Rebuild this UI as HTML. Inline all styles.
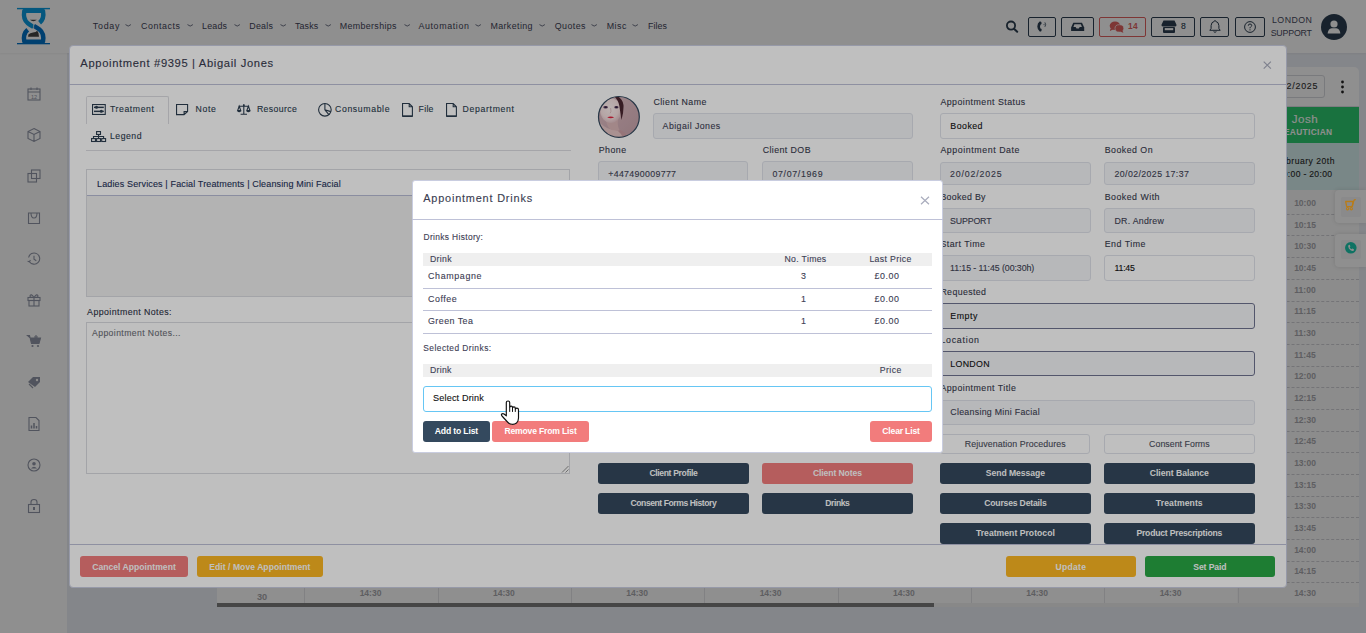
<!DOCTYPE html>
<html><head><meta charset="utf-8"><title>Appointment</title><style>*{margin:0;padding:0}
html,body{width:1366px;height:633px;overflow:hidden}
body{position:relative;background:#edeff6;font-family:"Liberation Sans",sans-serif}
.t{position:absolute;white-space:nowrap;line-height:1;-webkit-text-stroke:0.12px currentColor}
.b{position:absolute;box-sizing:border-box}
svg{overflow:visible}
</style></head><body>
<div style="position:absolute;left:0px;top:0px;width:67.00px;height:633.00px;background:#fff;"></div>
<div style="position:absolute;left:0px;top:0px;width:1366.00px;height:52.80px;background:#fff;box-shadow:0 1px 2px rgba(0,0,0,0.05);"></div>
<svg style="position:absolute;left:17px;top:7px;" width="34" height="39" viewBox="0 0 34 39">
<rect x="0" y="0.9" width="33" height="1.4" fill="#0a9be2"/>
<rect x="0" y="36" width="33" height="1.3" fill="#0073c8"/>
<path d="M22.6 15.8 C26.2 12.8 26.9 8.5 26 3.9 L7.3 3.9 C6.4 9 7.2 13.4 10.8 16.2 C12.6 17.6 14.5 18.7 16.4 19.8" stroke="#0a9be2" stroke-width="4.4" fill="none" stroke-linejoin="round"/>
<path d="M10.7 22.8 C7.1 25.8 6.4 30.1 7.3 34.7 L26 34.7 C26.9 29.6 26.1 25.2 22.5 22.4 C20.7 21 18.8 19.9 16.9 18.8" stroke="#0073c8" stroke-width="4.4" fill="none" stroke-linejoin="round"/>
<path d="M16.55 17.2 L16.65 21.4" stroke="#fff" stroke-width="0.7"/>
<path d="M12.9 12.7 Q16.4 15.6 19.9 12.7 Z" fill="#444"/>
<path d="M11.1 29.8 L11.4 27.6 Q13 25.9 16 25.6 Q19 25.2 20.2 23.7 Q22.1 25.6 22 29.8 Z" fill="#444"/>
</svg>
<div class="t" style="left:92.7px;top:22.00px;font-size:8.9px;color:#3f4459;font-weight:400;letter-spacing:0.787px;-webkit-text-stroke:0;">Today</div>
<svg style="position:absolute;left:125.1px;top:24px;" width="6.5" height="4" viewBox="0 0 6.5 4"><path d="M0.5 0.6 Q3.2 3.6 5.9 0.6" stroke="#555a70" stroke-width="0.85" fill="none"/></svg>
<div class="t" style="left:141.0px;top:22.00px;font-size:8.9px;color:#3f4459;font-weight:400;letter-spacing:0.572px;-webkit-text-stroke:0;">Contacts</div>
<svg style="position:absolute;left:187px;top:24px;" width="6.5" height="4" viewBox="0 0 6.5 4"><path d="M0.5 0.6 Q3.2 3.6 5.9 0.6" stroke="#555a70" stroke-width="0.85" fill="none"/></svg>
<div class="t" style="left:202.0px;top:22.00px;font-size:8.9px;color:#3f4459;font-weight:400;letter-spacing:0.212px;-webkit-text-stroke:0;">Leads</div>
<svg style="position:absolute;left:233.7px;top:24px;" width="6.5" height="4" viewBox="0 0 6.5 4"><path d="M0.5 0.6 Q3.2 3.6 5.9 0.6" stroke="#555a70" stroke-width="0.85" fill="none"/></svg>
<div class="t" style="left:249.3px;top:22.00px;font-size:8.9px;color:#3f4459;font-weight:400;letter-spacing:0.233px;-webkit-text-stroke:0;">Deals</div>
<svg style="position:absolute;left:280px;top:24px;" width="6.5" height="4" viewBox="0 0 6.5 4"><path d="M0.5 0.6 Q3.2 3.6 5.9 0.6" stroke="#555a70" stroke-width="0.85" fill="none"/></svg>
<div class="t" style="left:295.0px;top:22.00px;font-size:8.9px;color:#3f4459;font-weight:400;letter-spacing:0.112px;-webkit-text-stroke:0;">Tasks</div>
<svg style="position:absolute;left:325px;top:24px;" width="6.5" height="4" viewBox="0 0 6.5 4"><path d="M0.5 0.6 Q3.2 3.6 5.9 0.6" stroke="#555a70" stroke-width="0.85" fill="none"/></svg>
<div class="t" style="left:339.7px;top:22.00px;font-size:8.9px;color:#3f4459;font-weight:400;letter-spacing:0.355px;-webkit-text-stroke:0;">Memberships</div>
<svg style="position:absolute;left:403.5px;top:24px;" width="6.5" height="4" viewBox="0 0 6.5 4"><path d="M0.5 0.6 Q3.2 3.6 5.9 0.6" stroke="#555a70" stroke-width="0.85" fill="none"/></svg>
<div class="t" style="left:418.4px;top:22.00px;font-size:8.9px;color:#3f4459;font-weight:400;letter-spacing:0.625px;-webkit-text-stroke:0;">Automation</div>
<svg style="position:absolute;left:475px;top:24px;" width="6.5" height="4" viewBox="0 0 6.5 4"><path d="M0.5 0.6 Q3.2 3.6 5.9 0.6" stroke="#555a70" stroke-width="0.85" fill="none"/></svg>
<div class="t" style="left:490.4px;top:22.00px;font-size:8.9px;color:#3f4459;font-weight:400;letter-spacing:0.396px;-webkit-text-stroke:0;">Marketing</div>
<svg style="position:absolute;left:538.8px;top:24px;" width="6.5" height="4" viewBox="0 0 6.5 4"><path d="M0.5 0.6 Q3.2 3.6 5.9 0.6" stroke="#555a70" stroke-width="0.85" fill="none"/></svg>
<div class="t" style="left:554.7px;top:22.00px;font-size:8.9px;color:#3f4459;font-weight:400;letter-spacing:0.442px;-webkit-text-stroke:0;">Quotes</div>
<svg style="position:absolute;left:591px;top:24px;" width="6.5" height="4" viewBox="0 0 6.5 4"><path d="M0.5 0.6 Q3.2 3.6 5.9 0.6" stroke="#555a70" stroke-width="0.85" fill="none"/></svg>
<div class="t" style="left:606.7px;top:22.00px;font-size:8.9px;color:#3f4459;font-weight:400;letter-spacing:0.528px;-webkit-text-stroke:0;">Misc</div>
<svg style="position:absolute;left:632px;top:24px;" width="6.5" height="4" viewBox="0 0 6.5 4"><path d="M0.5 0.6 Q3.2 3.6 5.9 0.6" stroke="#555a70" stroke-width="0.85" fill="none"/></svg>
<div class="t" style="left:648.0px;top:22.00px;font-size:8.9px;color:#3f4459;font-weight:400;letter-spacing:0.046px;-webkit-text-stroke:0;">Files</div>
<svg style="position:absolute;left:1005px;top:19.5px;" width="14" height="14" viewBox="0 0 14 14"><circle cx="6" cy="5.6" r="4.1" stroke="#2c3e50" stroke-width="1.8" fill="none"/><path d="M9 8.7 L12.2 11.8" stroke="#2c3e50" stroke-width="2" stroke-linecap="round"/></svg>
<div style="position:absolute;left:1028px;top:17.2px;width:27.60px;height:19.40px;border:1px solid #2c3e50;border-radius:2px;box-sizing:border-box;"></div>
<div style="position:absolute;left:1061px;top:17.2px;width:32.60px;height:19.40px;border:1px solid #2c3e50;border-radius:2px;box-sizing:border-box;"></div>
<div style="position:absolute;left:1099.2px;top:17.2px;width:46.50px;height:19.40px;border:1px solid #e0605f;border-radius:2px;box-sizing:border-box;"></div>
<div style="position:absolute;left:1151px;top:17.2px;width:43.80px;height:19.40px;border:1px solid #2c3e50;border-radius:2px;box-sizing:border-box;"></div>
<div style="position:absolute;left:1200px;top:17.2px;width:29.40px;height:19.40px;border:1px solid #2c3e50;border-radius:2px;box-sizing:border-box;"></div>
<div style="position:absolute;left:1235.4px;top:17.2px;width:29.30px;height:19.40px;border:1px solid #2c3e50;border-radius:2px;box-sizing:border-box;"></div>
<svg style="position:absolute;left:1036px;top:20px;" width="12" height="13" viewBox="0 0 12 13"><path d="M3.6 1.6 Q4.8 1.2 5.3 2 L5.6 3.6 Q5.5 4.4 4.4 4.7 Q3.6 6.6 4.4 8.5 Q5.5 8.7 5.7 9.5 L5.4 11 Q4.9 11.9 3.7 11.4 Q1.4 10 1.3 6.5 Q1.4 3 3.6 1.6Z" fill="#2c3e50"/><path d="M7.5 4.6 L8.6 4.6" stroke="#2c3e50" stroke-width="0.7"/><path d="M8.9 2.4 Q10.4 4.6 8.9 6.8" stroke="#2c3e50" stroke-width="0.8" fill="none"/></svg>
<svg style="position:absolute;left:1071px;top:21.8px;" width="14" height="10" viewBox="0 0 14 10"><path d="M2.3 0.8 L11 0.8 L13.2 5.4 L13.2 9 L0.1 9 L0.1 5.4 Z" fill="#2c3e50"/><path d="M2.4 5 L4.6 5 L5.5 6.4 L7.8 6.4 L8.7 5 L10.9 5 L9.9 2.3 L3.4 2.3 Z" fill="#fff"/></svg>
<svg style="position:absolute;left:1108.5px;top:20.8px;" width="16" height="12" viewBox="0 0 16 12"><ellipse cx="6" cy="4.8" rx="5.3" ry="4.3" fill="#e0605f"/><path d="M1.8 7.2 L0.6 10 L4.2 8.4Z" fill="#e0605f"/><ellipse cx="10.4" cy="7.4" rx="4.4" ry="3.7" fill="#e0605f" stroke="#fff" stroke-width="0.7"/><path d="M13.2 9.6 L14.6 11.8 L11.3 10.8Z" fill="#e0605f"/></svg>
<div class="t" style="left:1128.0px;top:22.00px;font-size:8.3px;color:#e0605f;font-weight:700;letter-spacing:0.364px;-webkit-text-stroke:0;">14</div>
<svg style="position:absolute;left:1160.5px;top:19.6px;" width="16" height="14" viewBox="0 0 16 14"><path d="M2.5 0.6 L13.5 0.6 L15.6 5 Q15.4 6.6 13.8 6.6 L2.2 6.6 Q0.6 6.6 0.4 5 Z" fill="#2c3e50"/><rect x="2" y="7.1" width="12" height="5.8" rx="1" fill="#2c3e50"/><rect x="3.8" y="8.1" width="8.4" height="2.1" fill="#fff"/></svg>
<div class="t" style="left:1181.0px;top:22.00px;font-size:8.6px;color:#2c3e50;font-weight:400;">8</div>
<svg style="position:absolute;left:1209px;top:19.2px;" width="12" height="15" viewBox="0 0 12 15"><path d="M6 1.5 Q6.6 1.5 6.6 2.3 Q9.8 3 9.9 6.6 L9.9 9.5 L11.2 11.3 L0.8 11.3 L2.1 9.5 L2.1 6.6 Q2.2 3 5.4 2.3 Q5.4 1.5 6 1.5Z" stroke="#2c3e50" stroke-width="1" fill="none"/><path d="M4.6 12.6 Q6 14 7.4 12.6" stroke="#2c3e50" stroke-width="1" fill="none"/></svg>
<svg style="position:absolute;left:1243px;top:20px;" width="14" height="14" viewBox="0 0 14 14"><circle cx="7" cy="7" r="5.4" stroke="#2c3e50" stroke-width="1" fill="none"/><path d="M5.3 5.7 Q5.3 4 7 4 Q8.7 4 8.7 5.5 Q8.7 6.4 7.6 7 Q7 7.3 7 8.3" stroke="#2c3e50" stroke-width="1" fill="none"/><circle cx="7" cy="9.8" r="0.65" fill="#2c3e50"/></svg>
<div class="t" style="left:1272.0px;top:16.00px;font-size:8.8px;color:#474b5e;font-weight:400;letter-spacing:0.457px;-webkit-text-stroke:0;">LONDON</div>
<div class="t" style="left:1270.7px;top:29.00px;font-size:8.8px;color:#474b5e;font-weight:400;letter-spacing:-0.191px;-webkit-text-stroke:0;">SUPPORT</div>
<svg style="position:absolute;left:1321px;top:14px;" width="26" height="26" viewBox="0 0 26 26"><circle cx="13" cy="13" r="13" fill="#2c3e50"/><circle cx="13" cy="10" r="3.6" fill="#fff"/><path d="M6.6 19.6 Q7.2 14.6 10.6 14.2 L15.4 14.2 Q18.8 14.6 19.4 19.6 Z" fill="#fff"/></svg>
<svg style="position:absolute;left:26px;top:86px;" width="16" height="16" viewBox="0 0 16 16"><rect x="2" y="3" width="12" height="11" stroke="#9297a8" stroke-width="1.1" fill="none"/><path d="M2 6 L14 6 M5 1.5 L5 4 M11 1.5 L11 4" stroke="#9297a8" stroke-width="1.1" fill="none"/><text x="8" y="12.6" font-size="5.5" text-anchor="middle" fill="#9297a8" font-family="Liberation Sans">12</text></svg>
<svg style="position:absolute;left:26px;top:127px;" width="16" height="16" viewBox="0 0 16 16"><path d="M8 1.5 L14 4.5 L14 11.5 L8 14.5 L2 11.5 L2 4.5 Z M2 4.5 L8 7.5 L14 4.5 M8 7.5 L8 14.5" stroke="#9297a8" stroke-width="1.1" fill="none"/></svg>
<svg style="position:absolute;left:26px;top:168px;" width="16" height="16" viewBox="0 0 16 16"><rect x="2" y="5.5" width="8.5" height="8.5" stroke="#9297a8" stroke-width="1.1" fill="none"/><rect x="5.5" y="2" width="8.5" height="8.5" stroke="#9297a8" stroke-width="1.1" fill="none"/></svg>
<svg style="position:absolute;left:26px;top:210px;" width="16" height="16" viewBox="0 0 16 16"><path d="M2.5 3 L13.5 3 L13.5 13.5 L2.5 13.5 Z M5 3 Q5 8 8 8 Q11 8 11 3" stroke="#9297a8" stroke-width="1.1" fill="none"/></svg>
<svg style="position:absolute;left:26px;top:251px;" width="16" height="16" viewBox="0 0 16 16"><path d="M3.3 10.5 A5.6 5.6 0 1 0 2.6 6.5" stroke="#9297a8" stroke-width="1.1" fill="none"/><path d="M1.6 10.2 L3.4 10.8 L4.4 9" stroke="#9297a8" stroke-width="1.1" fill="none"/><path d="M8 4.8 L8 8.3 L10.3 9.8" stroke="#9297a8" stroke-width="1.1" fill="none"/></svg>
<svg style="position:absolute;left:26px;top:292px;" width="16" height="16" viewBox="0 0 16 16"><rect x="2" y="5.5" width="12" height="3" stroke="#9297a8" stroke-width="1.1" fill="none"/><rect x="3" y="8.5" width="10" height="5.5" stroke="#9297a8" stroke-width="1.1" fill="none"/><path d="M8 5.5 L8 14 M8 5.5 Q5 1 4 4 Q4 5.5 8 5.5 Q12 5.5 12 4 Q11 1 8 5.5" stroke="#9297a8" stroke-width="1.1" fill="none"/></svg>
<svg style="position:absolute;left:26px;top:333px;" width="16" height="16" viewBox="0 0 16 16"><path d="M1.5 2.5 L3.5 2.5 L5.5 10.5 L13 10.5 L14.5 5 L4.3 5 Z" fill="#9297a8" stroke="#9297a8" stroke-width="1.1"/><circle cx="6.5" cy="13" r="1.1" fill="#9297a8"/><circle cx="12" cy="13" r="1.1" fill="#9297a8"/><path d="M10 2 L10 6 M8 4 L12 4" stroke="#9297a8" stroke-width="1.1" fill="none"/></svg>
<svg style="position:absolute;left:26px;top:374px;" width="16" height="16" viewBox="0 0 16 16"><path d="M2 8 L7 3 L14 3 L14 8 L9 13 Z" fill="#9297a8"/><circle cx="11" cy="6" r="1.2" fill="#fff"/><path d="M3 10 L7 14" stroke="#9297a8" stroke-width="1.1" fill="none"/></svg>
<svg style="position:absolute;left:26px;top:416px;" width="16" height="16" viewBox="0 0 16 16"><path d="M3 1.5 L10 1.5 L13 4.5 L13 14.5 L3 14.5 Z" stroke="#9297a8" stroke-width="1.1" fill="none"/><path d="M5.5 12.5 L5.5 9.5 M8 12.5 L8 7 M10.5 12.5 L10.5 10" stroke="#9297a8" stroke-width="1.5"/></svg>
<svg style="position:absolute;left:26px;top:457px;" width="16" height="16" viewBox="0 0 16 16"><circle cx="8" cy="8" r="6" stroke="#9297a8" stroke-width="1.1" fill="none"/><circle cx="8" cy="6.8" r="1.8" fill="#9297a8"/><path d="M5 11.5 Q8 8 11 11.5" fill="#9297a8"/></svg>
<svg style="position:absolute;left:26px;top:498px;" width="16" height="16" viewBox="0 0 16 16"><rect x="2.5" y="6.5" width="11" height="8" stroke="#9297a8" stroke-width="1.1" fill="none"/><path d="M5 6.5 L5 4 Q5 1.5 8 1.5 Q11 1.5 11 4 L11 6.5" stroke="#9297a8" stroke-width="1.1" fill="none"/><rect x="7" y="9" width="2" height="3" fill="#9297a8"/></svg>
<div style="position:absolute;left:217px;top:67px;width:1142.00px;height:540.00px;background:#fff;border-radius:5px;"></div>
<div style="position:absolute;left:1225px;top:74.6px;width:99.60px;height:23.00px;border:1px solid #d9dadf;border-radius:3px;box-sizing:border-box;"></div>
<div class="t" style="left:1266.0px;top:82.00px;font-size:8.9px;color:#333;font-weight:400;letter-spacing:0.790px;">20/02/2025</div>
<svg style="position:absolute;left:1340px;top:80px;" width="5" height="14" viewBox="0 0 5 14"><circle cx="2.5" cy="2" r="1.4" fill="#222"/><circle cx="2.5" cy="7" r="1.4" fill="#222"/><circle cx="2.5" cy="12" r="1.4" fill="#222"/></svg>
<div style="position:absolute;left:217px;top:105.5px;width:1142.00px;height:1.00px;background:#dedfe4;"></div>
<div style="position:absolute;left:1237px;top:106.5px;width:122.00px;height:36.30px;background:#2ecc71;"></div>
<div class="t" style="left:1155.0px;width:300px;text-align:center;top:113.00px;font-size:11.6px;color:#fff;font-weight:400;letter-spacing:0.565px;">Josh</div>
<div class="t" style="left:1155.0px;width:300px;text-align:center;top:128.00px;font-size:8.4px;color:#fff;font-weight:700;letter-spacing:0.316px;-webkit-text-stroke:0;">BEAUTICIAN</div>
<div style="position:absolute;left:1237px;top:142.8px;width:122.00px;height:47.60px;background:#d9f1f1;"></div>
<div class="t" style="left:1155.0px;width:300px;text-align:center;top:157.00px;font-size:8.6px;color:#2a2a2a;font-weight:400;letter-spacing:0.483px;">February 20th</div>
<div class="t" style="left:1155.0px;width:300px;text-align:center;top:170.00px;font-size:8.6px;color:#2a2a2a;font-weight:400;letter-spacing:0.305px;">10:00 - 20:00</div>
<div style="position:absolute;left:1237px;top:190.4px;width:122.00px;height:412.60px;background:#fafafa;"></div>
<div class="t" style="left:1155.0px;width:300px;text-align:center;top:199.00px;font-size:8.5px;color:#a9a9ae;font-weight:700;-webkit-text-stroke:0;">10:00</div>
<div style="position:absolute;left:1237px;top:213.8px;width:122.00px;height:1.00px;border-top:1px dashed #cfcfd4;box-sizing:border-box;"></div>
<div class="t" style="left:1155.0px;width:300px;text-align:center;top:221.00px;font-size:8.5px;color:#a9a9ae;font-weight:700;-webkit-text-stroke:0;">10:15</div>
<div style="position:absolute;left:1237px;top:235.48000000000002px;width:122.00px;height:1.00px;border-top:1px dashed #cfcfd4;box-sizing:border-box;"></div>
<div class="t" style="left:1155.0px;width:300px;text-align:center;top:242.00px;font-size:8.5px;color:#a9a9ae;font-weight:700;-webkit-text-stroke:0;">10:30</div>
<div style="position:absolute;left:1237px;top:257.15999999999997px;width:122.00px;height:1.00px;border-top:1px dashed #cfcfd4;box-sizing:border-box;"></div>
<div class="t" style="left:1155.0px;width:300px;text-align:center;top:264.00px;font-size:8.5px;color:#a9a9ae;font-weight:700;-webkit-text-stroke:0;">10:45</div>
<div style="position:absolute;left:1237px;top:278.84px;width:122.00px;height:1.00px;border-top:1px dashed #cfcfd4;box-sizing:border-box;"></div>
<div class="t" style="left:1155.0px;width:300px;text-align:center;top:286.00px;font-size:8.5px;color:#a9a9ae;font-weight:700;-webkit-text-stroke:0;">11:00</div>
<div style="position:absolute;left:1237px;top:300.52px;width:122.00px;height:1.00px;border-top:1px dashed #cfcfd4;box-sizing:border-box;"></div>
<div class="t" style="left:1155.0px;width:300px;text-align:center;top:307.00px;font-size:8.5px;color:#a9a9ae;font-weight:700;-webkit-text-stroke:0;">11:15</div>
<div style="position:absolute;left:1237px;top:322.2px;width:122.00px;height:1.00px;border-top:1px dashed #cfcfd4;box-sizing:border-box;"></div>
<div class="t" style="left:1155.0px;width:300px;text-align:center;top:329.00px;font-size:8.5px;color:#a9a9ae;font-weight:700;-webkit-text-stroke:0;">11:30</div>
<div style="position:absolute;left:1237px;top:343.88px;width:122.00px;height:1.00px;border-top:1px dashed #cfcfd4;box-sizing:border-box;"></div>
<div class="t" style="left:1155.0px;width:300px;text-align:center;top:351.00px;font-size:8.5px;color:#a9a9ae;font-weight:700;-webkit-text-stroke:0;">11:45</div>
<div style="position:absolute;left:1237px;top:365.55999999999995px;width:122.00px;height:1.00px;border-top:1px dashed #cfcfd4;box-sizing:border-box;"></div>
<div class="t" style="left:1155.0px;width:300px;text-align:center;top:372.00px;font-size:8.5px;color:#a9a9ae;font-weight:700;-webkit-text-stroke:0;">12:00</div>
<div style="position:absolute;left:1237px;top:387.24px;width:122.00px;height:1.00px;border-top:1px dashed #cfcfd4;box-sizing:border-box;"></div>
<div class="t" style="left:1155.0px;width:300px;text-align:center;top:394.00px;font-size:8.5px;color:#a9a9ae;font-weight:700;-webkit-text-stroke:0;">12:15</div>
<div style="position:absolute;left:1237px;top:408.91999999999996px;width:122.00px;height:1.00px;border-top:1px dashed #cfcfd4;box-sizing:border-box;"></div>
<div class="t" style="left:1155.0px;width:300px;text-align:center;top:416.00px;font-size:8.5px;color:#a9a9ae;font-weight:700;-webkit-text-stroke:0;">12:30</div>
<div style="position:absolute;left:1237px;top:430.6px;width:122.00px;height:1.00px;border-top:1px dashed #cfcfd4;box-sizing:border-box;"></div>
<div class="t" style="left:1155.0px;width:300px;text-align:center;top:437.00px;font-size:8.5px;color:#a9a9ae;font-weight:700;-webkit-text-stroke:0;">12:45</div>
<div style="position:absolute;left:1237px;top:452.28px;width:122.00px;height:1.00px;border-top:1px dashed #cfcfd4;box-sizing:border-box;"></div>
<div class="t" style="left:1155.0px;width:300px;text-align:center;top:459.00px;font-size:8.5px;color:#a9a9ae;font-weight:700;-webkit-text-stroke:0;">13:00</div>
<div style="position:absolute;left:1237px;top:473.9599999999999px;width:122.00px;height:1.00px;border-top:1px dashed #cfcfd4;box-sizing:border-box;"></div>
<div class="t" style="left:1155.0px;width:300px;text-align:center;top:481.00px;font-size:8.5px;color:#a9a9ae;font-weight:700;-webkit-text-stroke:0;">13:15</div>
<div style="position:absolute;left:1237px;top:495.64px;width:122.00px;height:1.00px;border-top:1px dashed #cfcfd4;box-sizing:border-box;"></div>
<div class="t" style="left:1155.0px;width:300px;text-align:center;top:502.00px;font-size:8.5px;color:#a9a9ae;font-weight:700;-webkit-text-stroke:0;">13:30</div>
<div style="position:absolute;left:1237px;top:517.3199999999999px;width:122.00px;height:1.00px;border-top:1px dashed #cfcfd4;box-sizing:border-box;"></div>
<div class="t" style="left:1155.0px;width:300px;text-align:center;top:524.00px;font-size:8.5px;color:#a9a9ae;font-weight:700;-webkit-text-stroke:0;">13:45</div>
<div style="position:absolute;left:1237px;top:539.0px;width:122.00px;height:1.00px;border-top:1px dashed #cfcfd4;box-sizing:border-box;"></div>
<div class="t" style="left:1155.0px;width:300px;text-align:center;top:546.00px;font-size:8.5px;color:#a9a9ae;font-weight:700;-webkit-text-stroke:0;">14:00</div>
<div style="position:absolute;left:1237px;top:560.68px;width:122.00px;height:1.00px;border-top:1px dashed #cfcfd4;box-sizing:border-box;"></div>
<div class="t" style="left:1155.0px;width:300px;text-align:center;top:567.00px;font-size:8.5px;color:#a9a9ae;font-weight:700;-webkit-text-stroke:0;">14:15</div>
<div style="position:absolute;left:1237px;top:582.36px;width:122.00px;height:1.00px;border-top:1px dashed #cfcfd4;box-sizing:border-box;"></div>
<div class="t" style="left:1155.0px;width:300px;text-align:center;top:589.00px;font-size:8.5px;color:#a9a9ae;font-weight:700;-webkit-text-stroke:0;">14:30</div>
<div class="t" style="left:220.5px;width:300px;text-align:center;top:589.00px;font-size:8.5px;color:#a9a9ae;font-weight:700;-webkit-text-stroke:0;">14:30</div>
<div class="t" style="left:353.8px;width:300px;text-align:center;top:589.00px;font-size:8.5px;color:#a9a9ae;font-weight:700;-webkit-text-stroke:0;">14:30</div>
<div class="t" style="left:487.2px;width:300px;text-align:center;top:589.00px;font-size:8.5px;color:#a9a9ae;font-weight:700;-webkit-text-stroke:0;">14:30</div>
<div class="t" style="left:620.5px;width:300px;text-align:center;top:589.00px;font-size:8.5px;color:#a9a9ae;font-weight:700;-webkit-text-stroke:0;">14:30</div>
<div class="t" style="left:753.8px;width:300px;text-align:center;top:589.00px;font-size:8.5px;color:#a9a9ae;font-weight:700;-webkit-text-stroke:0;">14:30</div>
<div class="t" style="left:887.2px;width:300px;text-align:center;top:589.00px;font-size:8.5px;color:#a9a9ae;font-weight:700;-webkit-text-stroke:0;">14:30</div>
<div class="t" style="left:1020.5px;width:300px;text-align:center;top:589.00px;font-size:8.5px;color:#a9a9ae;font-weight:700;-webkit-text-stroke:0;">14:30</div>
<div style="position:absolute;left:304.3px;top:588px;width:1.00px;height:15.00px;background:#e6e6ea;"></div>
<div style="position:absolute;left:437.7px;top:588px;width:1.00px;height:15.00px;background:#e6e6ea;"></div>
<div style="position:absolute;left:571px;top:588px;width:1.00px;height:15.00px;background:#e6e6ea;"></div>
<div style="position:absolute;left:704.4px;top:588px;width:1.00px;height:15.00px;background:#e6e6ea;"></div>
<div style="position:absolute;left:837.7px;top:588px;width:1.00px;height:15.00px;background:#e6e6ea;"></div>
<div style="position:absolute;left:971px;top:588px;width:1.00px;height:15.00px;background:#e6e6ea;"></div>
<div style="position:absolute;left:1104.4px;top:588px;width:1.00px;height:15.00px;background:#e6e6ea;"></div>
<div style="position:absolute;left:1237.7px;top:588px;width:1.00px;height:15.00px;background:#e6e6ea;"></div>
<div class="t" style="left:112.0px;width:300px;text-align:center;top:593.00px;font-size:9.2px;color:#a9a9ae;font-weight:700;-webkit-text-stroke:0;">30</div>
<div style="position:absolute;left:217px;top:603px;width:1142.00px;height:4.00px;background:#f3f3f3;"></div>
<div style="position:absolute;left:217px;top:603px;width:717.00px;height:4.00px;background:#7e7e7e;"></div>
<div style="position:absolute;left:0px;top:0px;width:1366.00px;height:633.00px;background:rgba(0,0,0,0.25);"></div>
<div style="position:absolute;left:1335.3px;top:189.7px;width:30.70px;height:33.80px;background:#bfbfbf;border-radius:4px 0 0 4px;box-shadow:0 0 4px rgba(0,0,0,0.12);"></div>
<div style="position:absolute;left:1341px;top:196.9px;width:19.70px;height:19.80px;background:#b9b9ba;border-radius:2px;"></div>
<svg style="position:absolute;left:1344.6px;top:198.8px;" width="12" height="12" viewBox="0 0 12 12"><path d="M0.7 2.5 L8 2.5 L7.2 7.6 L1.7 7.6 Z" stroke="#f5a623" stroke-width="1.3" fill="none" stroke-linejoin="round"/><path d="M7.4 7.2 L8.9 1.4 Q9.2 0.6 10.8 0.7" stroke="#f5a623" stroke-width="1.3" fill="none"/><circle cx="2.6" cy="9.7" r="1.15" stroke="#f5a623" stroke-width="1.1" fill="none"/><circle cx="6.3" cy="9.7" r="1.15" stroke="#f5a623" stroke-width="1.1" fill="none"/></svg>
<div style="position:absolute;left:1335.3px;top:233.7px;width:30.70px;height:33.30px;background:#bfbfbf;border-radius:4px 0 0 4px;box-shadow:0 0 4px rgba(0,0,0,0.12);"></div>
<div style="position:absolute;left:1341px;top:239.8px;width:19.70px;height:19.70px;background:#b9b9ba;border-radius:2px;"></div>
<svg style="position:absolute;left:1344.7px;top:241.9px;" width="12" height="12" viewBox="0 0 12 12"><circle cx="5.8" cy="5.8" r="5.8" fill="#149985"/><path d="M3.6 3 L4.8 2.8 L5.4 4.6 L4.7 5.3 Q5.2 6.6 6.5 7.2 L7.2 6.5 L8.9 7.3 L8.8 8.4 Q7.6 9.5 5.6 8.2 Q3.4 6.6 3.2 4.5 Q3.2 3.5 3.6 3Z" fill="#bfbfbf"/></svg>
<div style="position:absolute;left:68.5px;top:44.5px;width:1218.30px;height:543.50px;background:#fff;border-radius:4px;border:1px solid #c9cde0;box-sizing:border-box;"></div>
<div class="t" style="left:80.3px;top:58.00px;font-size:11.2px;color:#383b4f;font-weight:400;letter-spacing:0.649px;">Appointment #9395 | Abigail Jones</div>
<svg style="position:absolute;left:1263px;top:60.5px;" width="9" height="9" viewBox="0 0 9 9"><path d="M0.7 0.6 L7.9 7.6 M7.9 0.6 L0.7 7.6" stroke="#a9acbd" stroke-width="1.2"/></svg>
<div style="position:absolute;left:68.6px;top:83.9px;width:1217.60px;height:1.00px;background:#bec1d7;"></div>
<div style="position:absolute;left:68.6px;top:543.8px;width:1217.60px;height:1.00px;background:#bec1d7;"></div>
<div style="position:absolute;left:86.4px;top:96.2px;width:82.20px;height:28.30px;border:1px solid #dcdde2;border-bottom:none;border-radius:2px 2px 0 0;box-sizing:border-box;background:#fff;"></div>
<svg style="position:absolute;left:91.9px;top:103.9px;" width="14" height="11" viewBox="0 0 14 11"><rect x="0.55" y="0.55" width="12.7" height="9.9" stroke="#2c3e50" stroke-width="1.1" fill="none"/><rect x="2" y="2.6" width="9.8" height="1.5" fill="#2c3e50"/><rect x="2" y="6.6" width="9.8" height="1.5" fill="#2c3e50"/><circle cx="4.5" cy="3.35" r="1.5" fill="#2c3e50"/><circle cx="9.3" cy="7.35" r="1.5" fill="#2c3e50"/></svg>
<div class="t" style="left:110.0px;top:105.00px;font-size:8.7px;color:#2c3e50;font-weight:400;letter-spacing:0.580px;">Treatment</div>
<svg style="position:absolute;left:175.8px;top:103.9px;" width="12.2" height="11.2" viewBox="0 0 12.2 11.2"><path d="M0.55 0.55 L11.6 0.55 L11.6 7.6 L8.1 10.6 L0.55 10.6 Z M8.1 10.6 L8.1 7.6 L11.6 7.6" stroke="#2c3e50" stroke-width="1.1" fill="none"/></svg>
<div class="t" style="left:195.6px;top:105.00px;font-size:8.7px;color:#2c3e50;font-weight:400;letter-spacing:0.654px;">Note</div>
<svg style="position:absolute;left:236.9px;top:103.9px;" width="13.6" height="11" viewBox="0 0 13.6 11"><path d="M6.8 0.6 L6.8 10.3 M3.6 10.3 L10 10.3 M1.4 2.2 L12.2 2.2 M2.2 2.2 L0.6 6.6 L3.8 6.6 Z M11.4 2.2 L9.8 6.6 L13 6.6 Z M0.6 6.6 Q2.2 9 3.8 6.6 M9.8 6.6 Q11.4 9 13 6.6" stroke="#2c3e50" stroke-width="1.1" fill="none"/><circle cx="6.8" cy="1.2" r="0.9" fill="#2c3e50"/></svg>
<div class="t" style="left:256.9px;top:105.00px;font-size:8.7px;color:#2c3e50;font-weight:400;letter-spacing:0.405px;">Resource</div>
<svg style="position:absolute;left:317.8px;top:102.9px;" width="14" height="14" viewBox="0 0 14 14"><circle cx="6.9" cy="6.8" r="6.3" stroke="#2c3e50" stroke-width="1.1" fill="none"/><path d="M6.9 0.5 L6.9 6.8 L12.8 8.6 M6.9 6.8 L10.9 11.6" stroke="#2c3e50" stroke-width="1.1" fill="none"/></svg>
<div class="t" style="left:335.0px;top:105.00px;font-size:8.7px;color:#2c3e50;font-weight:400;letter-spacing:0.638px;">Consumable</div>
<svg style="position:absolute;left:402px;top:102.9px;" width="11" height="14" viewBox="0 0 11 14"><path d="M0.55 0.55 L7.2 0.55 L10.4 3.8 L10.4 13.2 L0.55 13.2 Z M7.2 0.55 L7.2 3.8 L10.4 3.8" stroke="#2c3e50" stroke-width="1.1" fill="none"/><path d="M0.55 13.2 L10.4 13.2" stroke="#2c3e50" stroke-width="1.6"/></svg>
<div class="t" style="left:418.6px;top:105.00px;font-size:8.7px;color:#2c3e50;font-weight:400;letter-spacing:0.274px;">File</div>
<svg style="position:absolute;left:446px;top:102.9px;" width="11" height="14" viewBox="0 0 11 14"><path d="M0.55 0.55 L7.2 0.55 L10.4 3.8 L10.4 13.2 L0.55 13.2 Z M7.2 0.55 L7.2 3.8 L10.4 3.8" stroke="#2c3e50" stroke-width="1.1" fill="none"/><path d="M0.55 13.2 L10.4 13.2" stroke="#2c3e50" stroke-width="1.6"/></svg>
<div class="t" style="left:462.5px;top:105.00px;font-size:8.7px;color:#2c3e50;font-weight:400;letter-spacing:0.681px;">Department</div>
<svg style="position:absolute;left:91.1px;top:131px;" width="15.2" height="11" viewBox="0 0 15.2 11"><rect x="5.6" y="0.55" width="3.9" height="2.9" stroke="#2c3e50" stroke-width="1.1" fill="none"/><rect x="0.55" y="7.6" width="3.9" height="2.9" stroke="#2c3e50" stroke-width="1.1" fill="none"/><rect x="5.6" y="7.6" width="3.9" height="2.9" stroke="#2c3e50" stroke-width="1.1" fill="none"/><rect x="10.7" y="7.6" width="3.9" height="2.9" stroke="#2c3e50" stroke-width="1.1" fill="none"/><path d="M7.55 3.4 L7.55 7.6 M2.5 7.6 L2.5 5.5 L12.6 5.5 L12.6 7.6" stroke="#2c3e50" stroke-width="1.1" fill="none"/></svg>
<div class="t" style="left:110.0px;top:132.00px;font-size:8.7px;color:#2c3e50;font-weight:400;letter-spacing:0.504px;">Legend</div>
<div style="position:absolute;left:86.2px;top:149.8px;width:484.60px;height:1.00px;background:#dcdde2;"></div>
<div style="position:absolute;left:86.3px;top:168.5px;width:484.10px;height:128.80px;border:1px solid #dadbe1;box-sizing:border-box;background:#efefef;"></div>
<div style="position:absolute;left:87.3px;top:169.5px;width:482.10px;height:25.80px;background:#fff;"></div>
<div style="position:absolute;left:87.3px;top:194.8px;width:482.10px;height:1.00px;background:#b9bdd6;"></div>
<div class="t" style="left:97.0px;top:180.00px;font-size:9px;color:#26335a;font-weight:400;letter-spacing:0.146px;">Ladies Services | Facial Treatments | Cleansing Mini Facial</div>
<div class="t" style="left:87.1px;top:308.00px;font-size:8.8px;color:#2f3448;font-weight:400;letter-spacing:0.421px;">Appointment Notes:</div>
<div style="position:absolute;left:86.4px;top:321.5px;width:484.00px;height:152.70px;border:1px solid #dadbe1;box-sizing:border-box;background:#fff;"></div>
<div class="t" style="left:92.0px;top:329.00px;font-size:8.6px;color:#6d6f78;font-weight:400;letter-spacing:0.434px;">Appointment Notes...</div>
<svg style="position:absolute;left:561px;top:465px;" width="8" height="8" viewBox="0 0 8 8"><path d="M7.5 1 L1 7.5 M7.5 4.5 L4.5 7.5" stroke="#777" stroke-width="0.8"/></svg>
<svg style="position:absolute;left:598px;top:96px" width="42" height="42" viewBox="0 0 42 42"><defs><clipPath id="av"><circle cx="20.9" cy="20.9" r="20.4"/></clipPath>
<radialGradient id="fc" cx="0.45" cy="0.4" r="0.6"><stop offset="0" stop-color="#faeeed"/><stop offset="0.7" stop-color="#f2dcdc"/><stop offset="1" stop-color="#dcbcc0"/></radialGradient>
<linearGradient id="bgg" x1="0" y1="0" x2="1" y2="1"><stop offset="0" stop-color="#d2b4ba"/><stop offset="1" stop-color="#c09ca4"/></linearGradient></defs>
<g clip-path="url(#av)"><rect width="42" height="42" fill="url(#bgg)"/>
<path d="M0 24 Q6 32 12 33 Q20 34 26 37 Q31 39 33 42 L0 42Z" fill="#e2c2c2"/>
<path d="M8 24 Q9 32 14 34 L22 35 Q19 30 20 24Z" fill="#d8b4b6"/>
<path d="M22 34 Q28 36 31 42 L25 42 Q24 38 20 35Z" fill="#c89ca2"/>
<ellipse cx="12.8" cy="14.6" rx="10.6" ry="12.4" fill="url(#fc)"/>
<path d="M15 -1 Q24 0 25.5 9 Q25.8 16 23.5 24 Q22.2 16 21.4 10 Q20.5 4 15 -1Z" fill="#4a2630"/>
<path d="M3 0 L15 0 Q10 1 6 3Z" fill="#5a3038"/>
<ellipse cx="7.6" cy="11.2" rx="2.3" ry="1.2" fill="#5a3a5a"/><ellipse cx="18.4" cy="11.2" rx="2.1" ry="1.2" fill="#5a3a5a"/>
<ellipse cx="7.8" cy="11.3" rx="1" ry="0.8" fill="#2a2040"/><ellipse cx="18.3" cy="11.3" rx="1" ry="0.8" fill="#2a2040"/>
<path d="M12.6 12 Q13.6 16 12.2 17.2" stroke="#d8b8b8" stroke-width="0.8" fill="none"/>
<path d="M9.2 21.2 Q12.7 19.6 16.2 21.2 Q12.7 23.4 9.2 21.2Z" fill="#e0203c"/>
</g><circle cx="20.9" cy="20.9" r="20.4" fill="none" stroke="#34495e" stroke-width="1.2"/></svg>
<div class="t" style="left:653.4px;top:98.00px;font-size:8.8px;color:#383b4e;font-weight:400;letter-spacing:0.462px;">Client Name</div>
<div style="position:absolute;left:652.6px;top:113.2px;width:260.40px;height:25.50px;background:#f5f6f9;border:1px solid #dfe2ea;border-radius:3px;box-sizing:border-box;"></div>
<div class="t" style="left:662.6px;top:122.00px;font-size:8.8px;color:#424456;font-weight:400;letter-spacing:0.433px;">Abigail Jones</div>
<div class="t" style="left:598.7px;top:146.00px;font-size:8.8px;color:#383b4e;font-weight:400;letter-spacing:0.498px;">Phone</div>
<div style="position:absolute;left:598.3px;top:161.3px;width:150.20px;height:25.20px;background:#f5f6f9;border:1px solid #dfe2ea;border-radius:3px;box-sizing:border-box;"></div>
<div class="t" style="left:608.2px;top:170.00px;font-size:8.8px;color:#424456;font-weight:400;letter-spacing:0.331px;">+447490009777</div>
<div class="t" style="left:762.7px;top:146.00px;font-size:8.8px;color:#383b4e;font-weight:400;letter-spacing:0.425px;">Client DOB</div>
<div style="position:absolute;left:762.3px;top:161.3px;width:150.50px;height:25.20px;background:#f5f6f9;border:1px solid #dfe2ea;border-radius:3px;box-sizing:border-box;"></div>
<div class="t" style="left:772.5px;top:170.00px;font-size:8.8px;color:#424456;font-weight:400;letter-spacing:0.666px;">07/07/1969</div>
<div class="b" style="left:598px;top:463px;width:150.80px;height:20.80px;background:#34495e;border-radius:3px;"></div>
<div class="t" style="left:523.4px;width:300px;text-align:center;top:469.00px;font-size:8.6px;color:#fff;font-weight:700;letter-spacing:-0.362px;-webkit-text-stroke:0;">Client Profile</div>
<div class="b" style="left:761.7px;top:463px;width:151.30px;height:20.80px;background:#f27c7c;border-radius:3px;"></div>
<div class="t" style="left:687.4px;width:300px;text-align:center;top:469.00px;font-size:8.6px;color:#fff;font-weight:700;letter-spacing:-0.102px;-webkit-text-stroke:0;">Client Notes</div>
<div class="b" style="left:598px;top:492.8px;width:150.80px;height:20.90px;background:#34495e;border-radius:3px;"></div>
<div class="t" style="left:523.4px;width:300px;text-align:center;top:499.00px;font-size:8.6px;color:#fff;font-weight:700;letter-spacing:-0.441px;-webkit-text-stroke:0;">Consent Forms History</div>
<div class="b" style="left:761.7px;top:492.8px;width:151.30px;height:20.90px;background:#34495e;border-radius:3px;"></div>
<div class="t" style="left:687.4px;width:300px;text-align:center;top:499.00px;font-size:8.6px;color:#fff;font-weight:700;letter-spacing:-0.447px;-webkit-text-stroke:0;">Drinks</div>
<div class="t" style="left:940.4px;top:98.00px;font-size:8.8px;color:#383b4e;font-weight:400;letter-spacing:0.473px;">Appointment Status</div>
<div style="position:absolute;left:940.4px;top:113.2px;width:314.20px;height:25.50px;background:#fff;border:1px solid #dfe2ea;border-radius:3px;box-sizing:border-box;"></div>
<div class="t" style="left:950.3px;top:122.00px;font-size:8.8px;color:#111;font-weight:400;letter-spacing:0.477px;">Booked</div>
<div class="t" style="left:940.4px;top:146.00px;font-size:8.8px;color:#383b4e;font-weight:400;letter-spacing:0.580px;">Appointment Date</div>
<div class="t" style="left:1104.7px;top:146.00px;font-size:8.8px;color:#383b4e;font-weight:400;letter-spacing:0.477px;">Booked On</div>
<div style="position:absolute;left:940.4px;top:161.5px;width:150.20px;height:23.80px;background:#f5f6f9;border:1px solid #dfe2ea;border-radius:3px;box-sizing:border-box;"></div>
<div style="position:absolute;left:1104.3px;top:161.5px;width:150.30px;height:23.80px;background:#f5f6f9;border:1px solid #dfe2ea;border-radius:3px;box-sizing:border-box;"></div>
<div class="t" style="left:950.0px;top:170.00px;font-size:8.8px;color:#424456;font-weight:400;letter-spacing:0.855px;">20/02/2025</div>
<div class="t" style="left:1114.5px;top:170.00px;font-size:8.8px;color:#424456;font-weight:400;letter-spacing:0.389px;">20/02/2025 17:37</div>
<div class="t" style="left:940.4px;top:193.00px;font-size:8.8px;color:#383b4e;font-weight:400;letter-spacing:0.323px;">Booked By</div>
<div class="t" style="left:1104.7px;top:193.00px;font-size:8.8px;color:#383b4e;font-weight:400;letter-spacing:0.495px;">Booked With</div>
<div style="position:absolute;left:940.4px;top:208.3px;width:150.20px;height:25.00px;background:#f5f6f9;border:1px solid #dfe2ea;border-radius:3px;box-sizing:border-box;"></div>
<div style="position:absolute;left:1104.3px;top:208.3px;width:150.30px;height:25.00px;background:#f5f6f9;border:1px solid #dfe2ea;border-radius:3px;box-sizing:border-box;"></div>
<div class="t" style="left:950.0px;top:217.00px;font-size:8.8px;color:#424456;font-weight:400;letter-spacing:-0.141px;">SUPPORT</div>
<div class="t" style="left:1114.5px;top:217.00px;font-size:8.8px;color:#424456;font-weight:400;letter-spacing:0.255px;">DR. Andrew</div>
<div class="t" style="left:940.4px;top:240.00px;font-size:8.8px;color:#383b4e;font-weight:400;letter-spacing:0.493px;">Start Time</div>
<div class="t" style="left:1104.7px;top:240.00px;font-size:8.8px;color:#383b4e;font-weight:400;letter-spacing:0.522px;">End Time</div>
<div style="position:absolute;left:940.4px;top:255.4px;width:150.20px;height:25.60px;background:#f5f6f9;border:1px solid #dfe2ea;border-radius:3px;box-sizing:border-box;"></div>
<div style="position:absolute;left:1104.3px;top:255.4px;width:150.30px;height:25.60px;background:#fff;border:1px solid #dfe2ea;border-radius:3px;box-sizing:border-box;"></div>
<div class="t" style="left:950.0px;top:264.00px;font-size:8.8px;color:#424456;font-weight:400;letter-spacing:-0.072px;">11:15 - 11:45 (00:30h)</div>
<div class="t" style="left:1114.5px;top:264.00px;font-size:8.8px;color:#111;font-weight:400;letter-spacing:-0.237px;">11:45</div>
<div class="t" style="left:940.4px;top:288.00px;font-size:8.8px;color:#383b4e;font-weight:400;letter-spacing:0.371px;">Requested</div>
<div style="position:absolute;left:940.4px;top:303.1px;width:314.20px;height:26.40px;background:#f5f6f9;border:1px solid #6f7390;border-radius:3px;box-sizing:border-box;"></div>
<div class="t" style="left:950.3px;top:312.00px;font-size:8.8px;color:#111;font-weight:400;letter-spacing:0.523px;">Empty</div>
<div class="t" style="left:940.4px;top:336.00px;font-size:8.8px;color:#383b4e;font-weight:400;letter-spacing:0.752px;">Location</div>
<div style="position:absolute;left:940.4px;top:351.2px;width:314.20px;height:25.30px;background:#f5f6f9;border:1px solid #6f7390;border-radius:3px;box-sizing:border-box;"></div>
<div class="t" style="left:950.3px;top:360.00px;font-size:8.8px;color:#111;font-weight:400;letter-spacing:0.317px;">LONDON</div>
<div class="t" style="left:940.4px;top:384.00px;font-size:8.8px;color:#383b4e;font-weight:400;letter-spacing:0.471px;">Appointment Title</div>
<div style="position:absolute;left:940.4px;top:399.5px;width:314.20px;height:25.20px;background:#f5f6f9;border:1px solid #dfe2ea;border-radius:3px;box-sizing:border-box;"></div>
<div class="t" style="left:950.3px;top:408.00px;font-size:8.8px;color:#424456;font-weight:400;letter-spacing:0.286px;">Cleansing Mini Facial</div>
<div class="b" style="left:940px;top:433.5px;width:150.40px;height:20.00px;background:#fff;border-radius:3px;border:1px solid #dfe2ea;box-sizing:border-box;"></div>
<div class="t" style="left:865.2px;width:300px;text-align:center;top:440.00px;font-size:8.8px;color:#4d505e;font-weight:400;letter-spacing:0.093px;">Rejuvenation Procedures</div>
<div class="b" style="left:1104.3px;top:433.5px;width:150.30px;height:20.00px;background:#fff;border-radius:3px;border:1px solid #dfe2ea;box-sizing:border-box;"></div>
<div class="t" style="left:1029.4px;width:300px;text-align:center;top:440.00px;font-size:8.8px;color:#4d505e;font-weight:400;letter-spacing:0.032px;">Consent Forms</div>
<div class="b" style="left:940px;top:463px;width:150.70px;height:20.70px;background:#34495e;border-radius:3px;"></div>
<div class="t" style="left:865.4px;width:300px;text-align:center;top:469.00px;font-size:8.6px;color:#fff;font-weight:700;letter-spacing:-0.053px;-webkit-text-stroke:0;">Send Message</div>
<div class="b" style="left:1104px;top:463px;width:150.70px;height:20.70px;background:#34495e;border-radius:3px;"></div>
<div class="t" style="left:1029.3px;width:300px;text-align:center;top:469.00px;font-size:8.6px;color:#fff;font-weight:700;letter-spacing:-0.009px;-webkit-text-stroke:0;">Client Balance</div>
<div class="b" style="left:940px;top:493.2px;width:150.70px;height:20.50px;background:#34495e;border-radius:3px;"></div>
<div class="t" style="left:865.4px;width:300px;text-align:center;top:499.00px;font-size:8.6px;color:#fff;font-weight:700;letter-spacing:-0.175px;-webkit-text-stroke:0;">Courses Details</div>
<div class="b" style="left:1104px;top:493.2px;width:150.70px;height:20.50px;background:#34495e;border-radius:3px;"></div>
<div class="t" style="left:1029.3px;width:300px;text-align:center;top:499.00px;font-size:8.6px;color:#fff;font-weight:700;letter-spacing:0.106px;-webkit-text-stroke:0;">Treatments</div>
<div class="b" style="left:940px;top:523px;width:150.70px;height:20.50px;background:#34495e;border-radius:3px;"></div>
<div class="t" style="left:865.4px;width:300px;text-align:center;top:529.00px;font-size:8.6px;color:#fff;font-weight:700;letter-spacing:0.035px;-webkit-text-stroke:0;">Treatment Protocol</div>
<div class="b" style="left:1104px;top:523px;width:150.70px;height:20.50px;background:#34495e;border-radius:3px;"></div>
<div class="t" style="left:1029.3px;width:300px;text-align:center;top:529.00px;font-size:8.6px;color:#fff;font-weight:700;letter-spacing:-0.188px;-webkit-text-stroke:0;">Product Prescriptions</div>
<div class="b" style="left:80.2px;top:556.2px;width:107.60px;height:20.60px;background:#f27c7c;border-radius:3px;"></div>
<div class="t" style="left:-16.0px;width:300px;text-align:center;top:563.00px;font-size:8.6px;color:#fff;font-weight:700;letter-spacing:0.022px;-webkit-text-stroke:0;">Cancel Appointment</div>
<div class="b" style="left:197px;top:556.2px;width:125.70px;height:20.60px;background:#fdb722;border-radius:3px;"></div>
<div class="t" style="left:109.9px;width:300px;text-align:center;top:563.00px;font-size:8.6px;color:#fff;font-weight:700;letter-spacing:0.036px;-webkit-text-stroke:0;">Edit / Move Appointment</div>
<div class="b" style="left:1005.9px;top:556.2px;width:129.70px;height:20.60px;background:#fdb722;border-radius:3px;"></div>
<div class="t" style="left:920.8px;width:300px;text-align:center;top:563.00px;font-size:8.6px;color:#fff;font-weight:700;letter-spacing:0.275px;-webkit-text-stroke:0;">Update</div>
<div class="b" style="left:1145px;top:556.2px;width:129.80px;height:20.60px;background:#28a745;border-radius:3px;"></div>
<div class="t" style="left:1059.9px;width:300px;text-align:center;top:563.00px;font-size:8.6px;color:#fff;font-weight:700;letter-spacing:-0.072px;-webkit-text-stroke:0;">Set Paid</div>
<div style="position:absolute;left:0px;top:0px;width:1366.00px;height:633.00px;background:rgba(0,0,0,0.25);"></div>
<div style="position:absolute;left:411.8px;top:179.6px;width:531.60px;height:273.80px;background:#fff;border-radius:3px;border:1px solid #c9cde0;box-sizing:border-box;"></div>
<div class="t" style="left:423.2px;top:193.00px;font-size:10.9px;color:#3a3d51;font-weight:400;letter-spacing:0.818px;">Appointment Drinks</div>
<svg style="position:absolute;left:920px;top:195.5px;" width="10" height="9" viewBox="0 0 10 9"><path d="M1 0.8 L9 8.2 M9 0.8 L1 8.2" stroke="#a9acbd" stroke-width="1.2"/></svg>
<div style="position:absolute;left:412px;top:219px;width:530.50px;height:1.00px;background:#bec1d7;"></div>
<div class="t" style="left:423.6px;top:233.00px;font-size:8.4px;color:#3d4054;font-weight:400;letter-spacing:0.346px;">Drinks History:</div>
<div style="position:absolute;left:423px;top:253.2px;width:509.00px;height:12.80px;background:#efefef;"></div>
<div class="t" style="left:430.0px;top:255.00px;font-size:8.7px;color:#3d4054;font-weight:400;letter-spacing:0.310px;">Drink</div>
<div class="t" style="left:784.5px;top:255.00px;font-size:8.7px;color:#3d4054;font-weight:400;letter-spacing:0.327px;">No. Times</div>
<div class="t" style="left:869.4px;top:255.00px;font-size:8.7px;color:#3d4054;font-weight:400;letter-spacing:0.376px;">Last Price</div>
<div class="t" style="left:428.0px;top:272.00px;font-size:8.9px;color:#3d4054;font-weight:400;letter-spacing:0.647px;">Champagne</div>
<div class="t" style="left:653.5px;width:300px;text-align:center;top:272.00px;font-size:8.9px;color:#3d4054;font-weight:400;">3</div>
<div class="t" style="left:737.0px;width:300px;text-align:center;top:272.00px;font-size:8.9px;color:#3d4054;font-weight:400;letter-spacing:0.579px;">£0.00</div>
<div class="t" style="left:428.0px;top:295.00px;font-size:8.9px;color:#3d4054;font-weight:400;letter-spacing:0.547px;">Coffee</div>
<div class="t" style="left:653.5px;width:300px;text-align:center;top:295.00px;font-size:8.9px;color:#3d4054;font-weight:400;">1</div>
<div class="t" style="left:737.0px;width:300px;text-align:center;top:295.00px;font-size:8.9px;color:#3d4054;font-weight:400;letter-spacing:0.579px;">£0.00</div>
<div class="t" style="left:428.0px;top:317.00px;font-size:8.9px;color:#3d4054;font-weight:400;letter-spacing:0.444px;">Green Tea</div>
<div class="t" style="left:653.5px;width:300px;text-align:center;top:317.00px;font-size:8.9px;color:#3d4054;font-weight:400;">1</div>
<div class="t" style="left:737.0px;width:300px;text-align:center;top:317.00px;font-size:8.9px;color:#3d4054;font-weight:400;letter-spacing:0.579px;">£0.00</div>
<div style="position:absolute;left:423px;top:288px;width:509.00px;height:1.00px;background:#bec1d7;"></div>
<div style="position:absolute;left:423px;top:310.2px;width:509.00px;height:1.00px;background:#bec1d7;"></div>
<div style="position:absolute;left:423px;top:332.8px;width:509.00px;height:1.00px;background:#bec1d7;"></div>
<div class="t" style="left:423.3px;top:344.00px;font-size:8.4px;color:#3d4054;font-weight:400;letter-spacing:0.455px;">Selected Drinks:</div>
<div style="position:absolute;left:423px;top:364px;width:509.00px;height:12.70px;background:#efefef;"></div>
<div class="t" style="left:430.0px;top:366.00px;font-size:8.7px;color:#3d4054;font-weight:400;letter-spacing:0.260px;">Drink</div>
<div class="t" style="left:879.8px;top:366.00px;font-size:8.7px;color:#3d4054;font-weight:400;letter-spacing:0.406px;">Price</div>
<div style="position:absolute;left:423.3px;top:386.2px;width:508.40px;height:25.60px;border:1px solid #66c6f4;border-radius:3px;box-sizing:border-box;"></div>
<div class="t" style="left:433.1px;top:394.00px;font-size:9.1px;color:#111;font-weight:400;letter-spacing:0.147px;">Select Drink</div>
<div class="b" style="left:422.9px;top:421.3px;width:66.90px;height:20.50px;background:#34495e;border-radius:3px;"></div>
<div class="t" style="left:306.4px;width:300px;text-align:center;top:427.00px;font-size:8.6px;color:#fff;font-weight:700;letter-spacing:-0.146px;-webkit-text-stroke:0;">Add to List</div>
<div class="b" style="left:492px;top:421.3px;width:97.00px;height:20.50px;background:#f27c7c;border-radius:3px;"></div>
<div class="t" style="left:390.5px;width:300px;text-align:center;top:427.00px;font-size:8.6px;color:#fff;font-weight:700;letter-spacing:-0.171px;-webkit-text-stroke:0;">Remove From List</div>
<div class="b" style="left:870px;top:421.3px;width:62.00px;height:20.50px;background:#f27c7c;border-radius:3px;"></div>
<div class="t" style="left:751.0px;width:300px;text-align:center;top:427.00px;font-size:8.6px;color:#fff;font-weight:700;letter-spacing:-0.184px;-webkit-text-stroke:0;">Clear List</div>
<svg style="position:absolute;left:500px;top:399px;" width="22" height="27" viewBox="0 0 22 27"><path d="M6.3 3.6 Q6.3 2 8 2 Q9.7 2 9.7 3.6 L9.7 8.2 Q10.2 7.1 11.2 7.1 Q12.5 7.1 12.5 8.4 L12.5 8.8 Q13 7.9 14 7.9 Q15.3 7.9 15.3 9.2 L15.3 9.8 Q15.8 9.1 16.9 9.1 Q18.5 9.1 18.5 10.8 L18.5 19 Q18.5 22 16.5 24 Q14.5 25.5 12 25.3 Q9.5 25.2 7.5 23 L2 17 Q1 15.8 1.8 15 Q2.8 14.2 4 15 L6.3 16.8 Z" fill="#fff" stroke="#111" stroke-width="1.15" stroke-linejoin="round"/><path d="M9.7 8.2 L9.7 12.9 M12.5 8.8 L12.5 12.9 M15.3 9.8 L15.3 12.9" stroke="#111" stroke-width="1"/></svg>
</body></html>
